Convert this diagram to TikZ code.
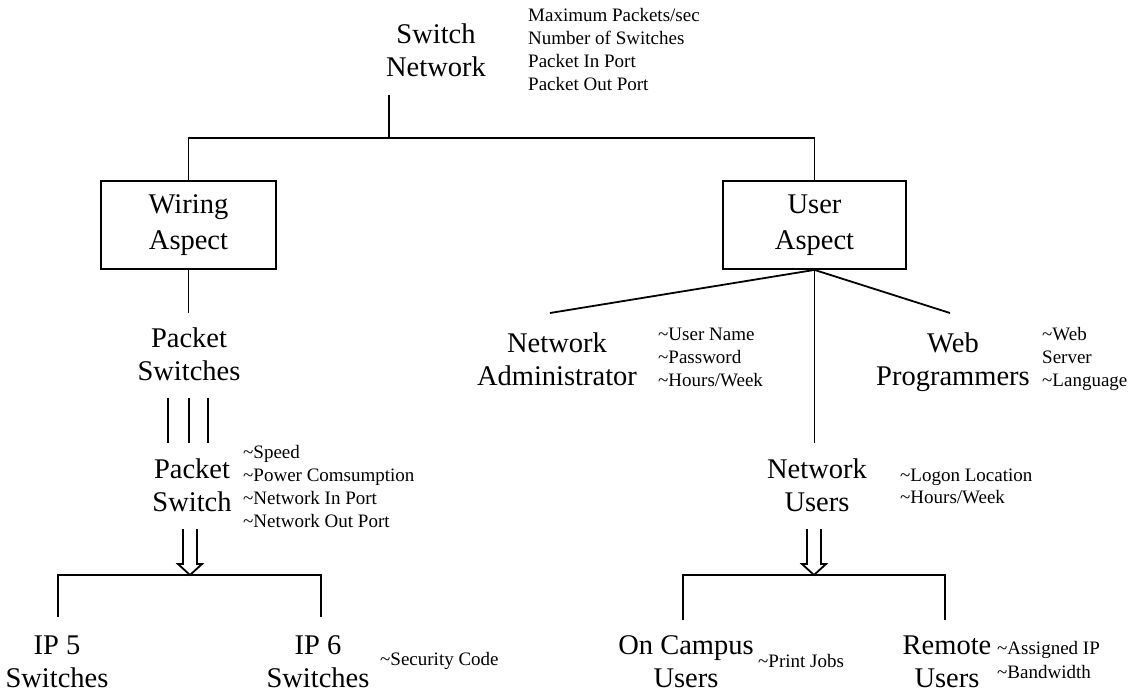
\documentclass[tikz,border=0pt]{standalone}
\usepackage{fontspec}
\setmainfont{Liberation Serif}
\begin{document}
\begin{tikzpicture}[x=1pt,y=-1pt,
  big/.style={font=\fontsize{28.5}{33}\selectfont, align=center, inner sep=0pt, anchor=base},
  small/.style={font=\fontsize{19}{22.7}\selectfont, align=left, inner sep=0pt, anchor=base west},
  wire/.style={line width=1.8pt},
  aspectbox/.style={draw, line width=1.8pt, minimum width=175pt, minimum height=88pt,
    inner sep=0pt, align=center, font=\fontsize{28.5}{36}\selectfont}]
\useasboundingbox (0,0) rectangle (1144,691);

% root (multi-line nodes are placed by the baseline of their last line)
\node[big] (sn) at (436,76) {Switch\\Network};
\node[small] (snattr) at (528,90) {Maximum Packets/sec\\Number of Switches\\Packet In Port\\Packet Out Port};
\coordinate (snfoot) at (389,95);
\coordinate (split) at (389,138);

% aspects
\node[aspectbox] (wiring) at (188.5,225) {Wiring\\Aspect};
\node[aspectbox, minimum width=183pt] (user) at (814.5,225) {User\\Aspect};
\draw[wire] (snfoot) -- (split);
\draw[wire] (wiring.north) |- (split) -| (user.north);

% wiring side
\node[big] (ps) at (189,380) {Packet\\Switches};
\coordinate (psin) at (188.5,313);
\draw[wire] (wiring.south) -- (psin);
\foreach \x [count=\i] in {168,189,208} {
  \coordinate (mt\i) at (\x,398);
  \coordinate (mb\i) at (\x,443);
  \draw[wire] (mt\i) -- (mb\i);
}
\node[big] (psw) at (192,511) {Packet\\Switch};
\node[small] (pswattr) at (243,527) {\textasciitilde Speed\\\textasciitilde Power Comsumption\\\textasciitilde Network In Port\\\textasciitilde Network Out Port};

% inheritance arrow and bracket (wiring)
\coordinate (ltip) at (190,575);
\draw[wire, line join=miter] (183,529) -- (183,564) -- (178,564) -- (ltip) -- (202,564) -- (197,564) -- (197,529);
\node[big] (ip5) at (57,687) {IP 5\\Switches};
\node[big] (ip6) at (318,687) {IP 6\\Switches};
\coordinate (ip5top) at (58,617);
\coordinate (ip6top) at (321,617);
\draw[wire] (ip5top) |- (ltip) -| (ip6top);
\node[small] (ip6attr) at (380,665) {\textasciitilde Security Code};

% user side
\coordinate (adm) at (550,313);
\coordinate (web) at (950,313);
\coordinate (nu) at (814.5,443);
\draw[wire] (user.south) -- (adm);
\draw[wire] (user.south) -- (web);
\draw[wire] (user.south) -- (nu);

\node[big] (admin) at (557,385) {Network\\Administrator};
\node[small] (adminattr) at (658,386) {\textasciitilde User Name\\\textasciitilde Password\\\textasciitilde Hours/Week};
\node[big] (webp) at (953,385) {Web\\Programmers};
\node[small] (webattr) at (1042,386) {\textasciitilde Web\\Server\\\textasciitilde Language};

\node[big] (nusers) at (817,511) {Network\\Users};
\node[small, font=\fontsize{19}{21.5}\selectfont] (nuattr) at (900,503) {\textasciitilde Logon Location\\\textasciitilde Hours/Week};

% inheritance arrow and bracket (users)
\coordinate (rtip) at (814,575);
\draw[wire, line join=miter] (807,529) -- (807,564) -- (802,564) -- (rtip) -- (826,564) -- (821,564) -- (821,529);
\node[big] (oncampus) at (686,687) {On Campus\\Users};
\node[big] (remote) at (947,687) {Remote\\Users};
\coordinate (octop) at (683,620);
\coordinate (rmtop) at (945,620);
\draw[wire] (octop) |- (rtip) -| (rmtop);
\node[small] (ocattr) at (758,667) {\textasciitilde Print Jobs};
\node[small, font=\fontsize{19}{24}\selectfont] (rmattr) at (997,678) {\textasciitilde Assigned IP\\\textasciitilde Bandwidth};
\end{tikzpicture}
\end{document}
